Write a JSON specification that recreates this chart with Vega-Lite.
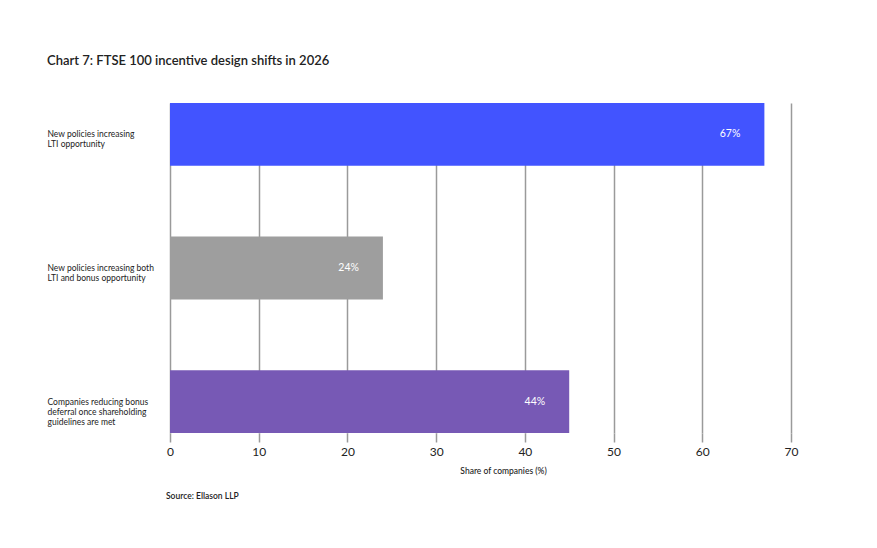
{
  "$schema": "https://vega.github.io/schema/vega-lite/v6.json",
  "padding": {"left": 47, "top": 55, "right": 10, "bottom": 10},
  "background": "white",
  "title": {
    "text": "Chart 7: FTSE 100 incentive design shifts in 2026",
    "anchor": "start",
    "frame": "bounds",
    "font": "Lato",
    "fontSize": 13,
    "fontWeight": 600,
    "color": "#222222",
    "offset": 35
  },
  "config": {
    "view": {"stroke": null},
    "font": "Lato"
  },
  "vconcat": [
    {
      "width": 621,
      "height": 330,
      "title": {
        "text": "Source: Ellason LLP",
        "orient": "bottom",
        "anchor": "start",
        "frame": "group",
        "dx": -4,
        "font": "Lato",
        "fontSize": 8.5,
        "fontWeight": 600,
        "color": "#222222",
        "offset": 17
      },
      "data": {
        "values": [
          {"measure": "New policies increasing|LTI opportunity", "share": 67, "label": "67%"},
          {"measure": "New policies increasing both|LTI and bonus opportunity", "share": 24, "label": "24%"},
          {"measure": "Companies reducing bonus|deferral once shareholding|guidelines are met", "share": 45, "label": "44%"}
        ]
      },
      "encoding": {
        "y": {
          "field": "measure",
          "type": "nominal",
          "sort": null,
          "scale": {"paddingInner": 0.53, "paddingOuter": 0},
          "axis": {
            "title": null,
            "domain": false,
            "ticks": false,
            "labelAlign": "left",
            "labelPadding": 123,
            "labelExpr": "split(datum.label, '|')",
            "labelFontSize": 8.5,
            "labelLineHeight": 10,
            "labelColor": "#222222",
            "labelBaseline": "middle"
          }
        },
        "x": {
          "field": "share",
          "type": "quantitative",
          "scale": {"domain": [0, 70], "nice": false},
          "axis": {
            "title": "Share of companies (%)",
            "titleFontSize": 8.5,
            "titleFontWeight": 500,
            "titleColor": "#222222",
            "titleX": 333,
            "titleY": 33,
            "values": [0, 10, 20, 30, 40, 50, 60, 70],
            "domain": false,
            "grid": true,
            "gridColor": "#9a9a9a",
            "gridWidth": 1.5,
            "gridOpacity": 1,
            "tickColor": "#9a9a9a",
            "tickWidth": 1.5,
            "tickSize": 9,
            "labelFlush": false,
            "labelFontSize": 12,
            "labelColor": "#222222",
            "labelPadding": 4
          }
        }
      },
      "layer": [
        {
          "mark": {"type": "bar"},
          "encoding": {
            "color": {
              "field": "measure",
              "type": "nominal",
              "sort": null,
              "scale": {"range": ["#4254ff", "#9e9e9e", "#7759b5"]},
              "legend": null
            }
          }
        },
        {
          "mark": {
            "type": "text",
            "align": "right",
            "baseline": "middle",
            "dx": -24,
            "color": "white",
            "fontSize": 10.5
          },
          "encoding": {
            "text": {"field": "label"}
          }
        }
      ]
    }
  ]
}
